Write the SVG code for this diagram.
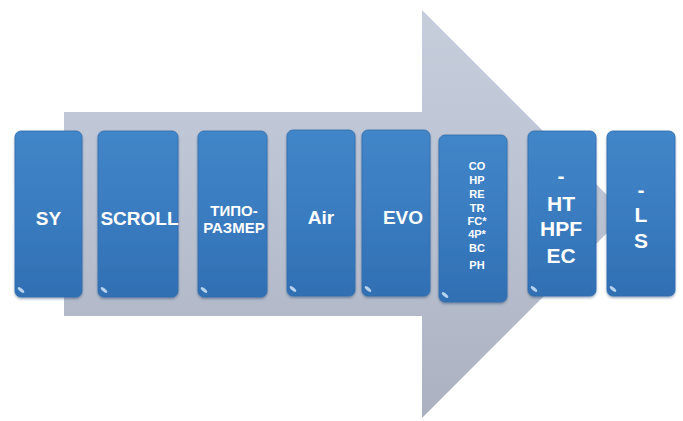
<svg xmlns="http://www.w3.org/2000/svg" width="683" height="421" viewBox="0 0 683 421">
<defs>
<linearGradient id="arrowG" x1="0" y1="0" x2="0" y2="1">
<stop offset="0" stop-color="#c6cddb"/>
<stop offset="0.5" stop-color="#bac1d1"/>
<stop offset="1" stop-color="#abb1c1"/>
</linearGradient>
<linearGradient id="boxG" x1="0" y1="0" x2="0" y2="1">
<stop offset="0" stop-color="#4186c8"/>
<stop offset="0.5" stop-color="#3a7cc0"/>
<stop offset="1" stop-color="#306fb3"/>
</linearGradient>
<filter id="sh" x="-10%" y="-10%" width="120%" height="120%">
<feDropShadow dx="0" dy="1.5" stdDeviation="1.2" flood-color="#1e3c64" flood-opacity="0.45"/>
</filter>
</defs>
<style>
.box{fill:url(#boxG);stroke:#2f6cae;stroke-width:0.8;filter:url(#sh)}
.hl{fill:#cfe4f7;opacity:0.85}
.t{font-family:"Liberation Sans",Arial,sans-serif;font-weight:bold;fill:#ffffff;text-anchor:middle}
.big{font-size:19px}
.mid{font-size:21px}
.sm{font-size:11px}
</style>
<g id="arrow">
<path d="M64,112 L422,112 L422,10 L626,214 L422,418 L422,316 L64,316 Z" fill="url(#arrowG)"/>
</g>
<g id="connectors"></g>
<g id="n1">
<rect class="box" x="15" y="131" width="67" height="166" rx="6"/>
<ellipse class="hl" cx="21" cy="290" rx="4" ry="1.6" transform="rotate(40 21 290)"/>
<text class="t big" x="48.5" y="225">SY</text>
</g>
<g id="n2">
<rect class="box" x="98" y="131" width="80" height="166" rx="6"/>
<ellipse class="hl" cx="104" cy="290" rx="4" ry="1.6" transform="rotate(40 104 290)"/>
<text class="t big" x="139.5" y="225">SCROLL</text>
</g>
<g id="n3">
<rect class="box" x="198" y="131" width="69" height="166" rx="6"/>
<ellipse class="hl" cx="204" cy="290" rx="4" ry="1.6" transform="rotate(40 204 290)"/>
<text class="t" x="234" y="216" font-size="15">ТИПО-</text>
<text class="t" x="234" y="233" font-size="15">РАЗМЕР</text>
</g>
<g id="n4">
<rect class="box" x="287" y="130" width="68" height="166" rx="6"/>
<ellipse class="hl" cx="293" cy="289" rx="4" ry="1.6" transform="rotate(40 293 289)"/>
<text class="t big" x="321" y="224">Air</text>
</g>
<g id="n5">
<rect class="box" x="362" y="130" width="68" height="166" rx="6"/>
<ellipse class="hl" cx="368" cy="289" rx="4" ry="1.6" transform="rotate(40 368 289)"/>
<text class="t big" x="403" y="224">EVO</text>
</g>
<g id="n6">
<rect class="box" x="439" y="135" width="68" height="167" rx="6"/>
<ellipse class="hl" cx="445" cy="295" rx="4" ry="1.6" transform="rotate(40 445 295)"/>
<text class="t sm" x="477" y="170">CO</text>
<text class="t sm" x="477" y="184">HP</text>
<text class="t sm" x="477" y="198">RE</text>
<text class="t sm" x="477" y="212">TR</text>
<text class="t sm" x="477" y="225">FC*</text>
<text class="t sm" x="477" y="238">4P*</text>
<text class="t sm" x="477" y="252">BC</text>
<text class="t sm" x="477" y="269">PH</text>
</g>
<g id="n7">
<rect class="box" x="528" y="131" width="68" height="165" rx="6"/>
<ellipse class="hl" cx="534" cy="289" rx="4" ry="1.6" transform="rotate(40 534 289)"/>
<text class="t mid" x="561" y="183">-</text>
<text class="t mid" x="561" y="211">HT</text>
<text class="t mid" x="561" y="236">HPF</text>
<text class="t mid" x="561" y="263">EC</text>
</g>
<g id="n8">
<rect class="box" x="607" y="131" width="68" height="165" rx="6"/>
<ellipse class="hl" cx="613" cy="289" rx="4" ry="1.6" transform="rotate(40 613 289)"/>
<text class="t mid" x="641" y="197">-</text>
<text class="t mid" x="641" y="222">L</text>
<text class="t mid" x="641" y="248">S</text>
</g>
</svg>
